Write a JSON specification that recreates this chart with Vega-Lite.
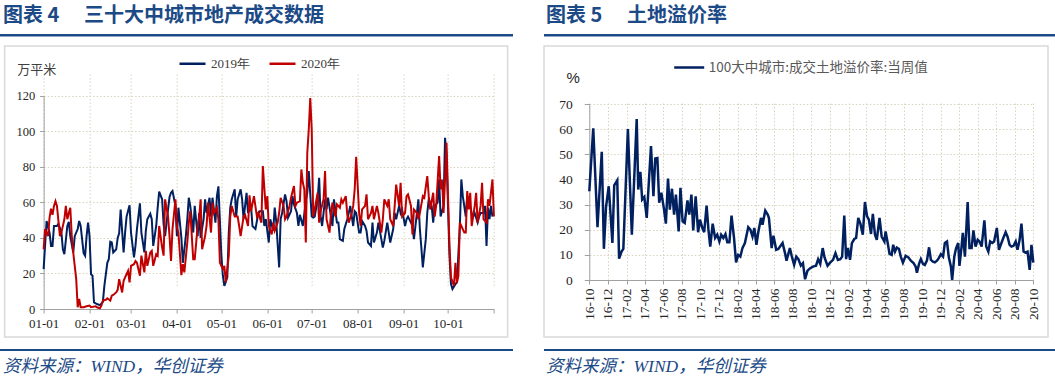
{
  "$schema": "https://vega.github.io/schema/vega-lite/v6.json",
  "padding": {"left": 0, "top": 6, "right": 0, "bottom": 0},
  "background": "white",
  "config": {
    "view": {"stroke": null},
    "axis": {"domainColor": "#a0a0a0", "tickColor": "#a0a0a0", "gridColor": "#d8d4bc", "gridDash": [1.5, 2], "gridWidth": 1, "labelColor": "#262626", "labelFont": "Liberation Serif", "labelOverlap": false, "labelFlush": false, "domainWidth": 1}
  },
  "datasets": {
    "left": [
      {"day":0,"s":"2019年","v":22.4},{"day":2,"s":"2019年","v":49.5},{"day":4,"s":"2019年","v":43},{"day":5,"s":"2019年","v":35.5},{"day":6,"s":"2019年","v":35.5},{"day":7,"s":"2019年","v":46.7},{"day":9,"s":"2019年","v":46.7},{"day":10,"s":"2019年","v":48},{"day":12,"s":"2019年","v":43},{"day":13,"s":"2019年","v":33.6},{"day":14,"s":"2019年","v":30.8},{"day":16,"s":"2019年","v":46.7},{"day":17,"s":"2019年","v":49},{"day":18,"s":"2019年","v":41},{"day":20,"s":"2019年","v":31.8},{"day":21,"s":"2019年","v":41},{"day":23,"s":"2019年","v":45},{"day":24,"s":"2019年","v":49.5},{"day":25,"s":"2019年","v":46.7},{"day":27,"s":"2019年","v":31.4},{"day":28,"s":"2019年","v":30},{"day":29,"s":"2019年","v":41},{"day":30,"s":"2019年","v":48.6},{"day":31,"s":"2019年","v":41},{"day":32,"s":"2019年","v":19.6},{"day":33,"s":"2019年","v":18.7},{"day":34,"s":"2019年","v":3.7},{"day":36,"s":"2019年","v":2.8},{"day":38,"s":"2019年","v":2.2},{"day":40,"s":"2019年","v":4},{"day":41,"s":"2019年","v":13},{"day":43,"s":"2019年","v":26},{"day":44,"s":"2019年","v":28},{"day":45,"s":"2019年","v":37.8},{"day":46,"s":"2019年","v":37.4},{"day":47,"s":"2019年","v":31.8},{"day":49,"s":"2019年","v":33.6},{"day":50,"s":"2019年","v":40},{"day":51,"s":"2019年","v":42.6},{"day":52,"s":"2019年","v":56},{"day":54,"s":"2019年","v":31.8},{"day":55,"s":"2019年","v":43},{"day":56,"s":"2019年","v":52},{"day":58,"s":"2019年","v":58.3},{"day":59,"s":"2019年","v":43},{"day":61,"s":"2019年","v":29},{"day":62,"s":"2019年","v":35.5},{"day":63,"s":"2019年","v":44.9},{"day":65,"s":"2019年","v":59.4},{"day":66,"s":"2019年","v":43},{"day":68,"s":"2019年","v":31.8},{"day":69,"s":"2019年","v":44},{"day":70,"s":"2019年","v":50.5},{"day":72,"s":"2019年","v":53.6},{"day":73,"s":"2019年","v":50.5},{"day":74,"s":"2019年","v":35.5},{"day":76,"s":"2019年","v":46.7},{"day":77,"s":"2019年","v":57},{"day":78,"s":"2019年","v":66},{"day":80,"s":"2019年","v":61.7},{"day":81,"s":"2019年","v":47.7},{"day":82,"s":"2019年","v":41},{"day":84,"s":"2019年","v":56},{"day":85,"s":"2019年","v":63},{"day":86,"s":"2019年","v":65.4},{"day":87,"s":"2019年","v":66.4},{"day":89,"s":"2019年","v":58},{"day":90,"s":"2019年","v":41},{"day":91,"s":"2019年","v":57},{"day":93,"s":"2019年","v":40},{"day":94,"s":"2019年","v":26},{"day":96,"s":"2019年","v":41},{"day":97,"s":"2019年","v":50.5},{"day":98,"s":"2019年","v":62.6},{"day":99,"s":"2019年","v":58},{"day":101,"s":"2019年","v":43},{"day":102,"s":"2019年","v":58},{"day":104,"s":"2019年","v":41},{"day":105,"s":"2019年","v":54},{"day":106,"s":"2019年","v":40},{"day":108,"s":"2019年","v":50.5},{"day":109,"s":"2019年","v":61.7},{"day":110,"s":"2019年","v":54},{"day":112,"s":"2019年","v":62.6},{"day":113,"s":"2019年","v":52},{"day":114,"s":"2019年","v":62.6},{"day":116,"s":"2019年","v":48.6},{"day":117,"s":"2019年","v":63.5},{"day":118,"s":"2019年","v":69},{"day":120,"s":"2019年","v":30},{"day":121,"s":"2019年","v":18.7},{"day":122,"s":"2019年","v":13},{"day":124,"s":"2019年","v":17.8},{"day":125,"s":"2019年","v":43},{"day":126,"s":"2019年","v":57},{"day":127,"s":"2019年","v":61.7},{"day":129,"s":"2019年","v":67.3},{"day":130,"s":"2019年","v":52},{"day":131,"s":"2019年","v":61.7},{"day":133,"s":"2019年","v":67.3},{"day":134,"s":"2019年","v":61.7},{"day":135,"s":"2019年","v":50.5},{"day":137,"s":"2019年","v":65.4},{"day":138,"s":"2019年","v":54},{"day":140,"s":"2019年","v":58},{"day":141,"s":"2019年","v":46.7},{"day":143,"s":"2019年","v":45},{"day":145,"s":"2019年","v":54},
      {"day":146,"s":"2019年","v":55},{"day":148,"s":"2019年","v":55},{"day":149,"s":"2019年","v":46.7},{"day":150,"s":"2019年","v":50.5},{"day":152,"s":"2019年","v":37.4},{"day":153,"s":"2019年","v":50.5},{"day":155,"s":"2019年","v":44},{"day":156,"s":"2019年","v":57},{"day":157,"s":"2019年","v":49.5},{"day":159,"s":"2019年","v":23.4},{"day":160,"s":"2019年","v":50.5},{"day":161,"s":"2019年","v":54},{"day":163,"s":"2019年","v":64.5},{"day":164,"s":"2019年","v":60.7},{"day":165,"s":"2019年","v":51.4},{"day":167,"s":"2019年","v":55},{"day":168,"s":"2019年","v":63.5},{"day":169,"s":"2019年","v":58.9},{"day":171,"s":"2019年","v":54},{"day":172,"s":"2019年","v":46.7},{"day":173,"s":"2019年","v":53},{"day":175,"s":"2019年","v":46.7},{"day":177,"s":"2019年","v":60.7},{"day":178,"s":"2019年","v":65.4},{"day":179,"s":"2019年","v":77.6},{"day":181,"s":"2019年","v":52},{"day":182,"s":"2019年","v":51.4},{"day":183,"s":"2019年","v":52},{"day":185,"s":"2019年","v":61.7},{"day":186,"s":"2019年","v":73.8},{"day":187,"s":"2019年","v":52},{"day":188,"s":"2019年","v":46.7},{"day":190,"s":"2019年","v":61.7},{"day":191,"s":"2019年","v":56},{"day":192,"s":"2019年","v":62.6},{"day":194,"s":"2019年","v":52},{"day":195,"s":"2019年","v":46.7},{"day":196,"s":"2019年","v":61.7},{"day":198,"s":"2019年","v":48.6},{"day":199,"s":"2019年","v":48.6},{"day":200,"s":"2019年","v":39.3},{"day":202,"s":"2019年","v":38.3},{"day":203,"s":"2019年","v":45},{"day":205,"s":"2019年","v":50.5},{"day":206,"s":"2019年","v":54},{"day":207,"s":"2019年","v":58},{"day":209,"s":"2019年","v":46.7},{"day":210,"s":"2019年","v":55},{"day":211,"s":"2019年","v":54},{"day":213,"s":"2019年","v":43},{"day":214,"s":"2019年","v":43},{"day":215,"s":"2019年","v":49.5},{"day":217,"s":"2019年","v":46.7},{"day":218,"s":"2019年","v":44},{"day":219,"s":"2019年","v":37.4},{"day":221,"s":"2019年","v":35.5},{"day":222,"s":"2019年","v":48.6},{"day":223,"s":"2019年","v":37.4},{"day":225,"s":"2019年","v":43},{"day":226,"s":"2019年","v":48.6},{"day":228,"s":"2019年","v":39.3},{"day":229,"s":"2019年","v":34.6},{"day":230,"s":"2019年","v":38.3},{"day":232,"s":"2019年","v":48.6},{"day":233,"s":"2019年","v":43},{"day":234,"s":"2019年","v":37.4},{"day":236,"s":"2019年","v":45},{"day":237,"s":"2019年","v":54},{"day":238,"s":"2019年","v":50.5},{"day":240,"s":"2019年","v":58},{"day":241,"s":"2019年","v":54},{"day":242,"s":"2019年","v":56},{"day":244,"s":"2019年","v":46.7},{"day":245,"s":"2019年","v":50.5},{"day":246,"s":"2019年","v":52},{"day":248,"s":"2019年","v":48.6},{"day":249,"s":"2019年","v":46.7},{"day":250,"s":"2019年","v":39.3},{"day":252,"s":"2019年","v":54},{"day":253,"s":"2019年","v":61.7},{"day":254,"s":"2019年","v":45},{"day":255,"s":"2019年","v":34.6},{"day":256,"s":"2019年","v":23.4},{"day":258,"s":"2019年","v":39.3},{"day":259,"s":"2019年","v":54},{"day":260,"s":"2019年","v":61.7},{"day":262,"s":"2019年","v":58},{"day":263,"s":"2019年","v":48.6},{"day":264,"s":"2019年","v":58},{"day":266,"s":"2019年","v":59.8},{"day":267,"s":"2019年","v":72.9},{"day":268,"s":"2019年","v":52},{"day":270,"s":"2019年","v":58},{"day":271,"s":"2019年","v":96.3},{"day":272,"s":"2019年","v":86},{"day":274,"s":"2019年","v":30},{"day":275,"s":"2019年","v":14},{"day":276,"s":"2019年","v":11.2},{"day":278,"s":"2019年","v":14},{"day":279,"s":"2019年","v":15},{"day":281,"s":"2019年","v":46.7},{"day":282,"s":"2019年","v":72.9},{"day":283,"s":"2019年","v":63.5},{"day":285,"s":"2019年","v":52},{"day":286,"s":"2019年","v":63.5},{"day":287,"s":"2019年","v":61.7},{"day":289,"s":"2019年","v":54},{"day":290,"s":"2019年","v":52},{"day":291,"s":"2019年","v":54},{"day":293,"s":"2019年","v":48.6},{"day":294,"s":"2019年","v":52},{"day":295,"s":"2019年","v":54},{"day":297,"s":"2019年","v":54},{"day":298,"s":"2019年","v":58},{"day":299,"s":"2019年","v":35.5},{"day":300,"s":"2019年","v":57},{"day":301,"s":"2019年","v":50.5},{"day":302,"s":"2019年","v":58},{"day":303,"s":"2019年","v":52},
      {"day":0,"s":"2020年","v":33.6},{"day":1,"s":"2020年","v":45},{"day":3,"s":"2020年","v":41},{"day":4,"s":"2020年","v":51.4},{"day":5,"s":"2020年","v":56.4},{"day":6,"s":"2020年","v":53},{"day":7,"s":"2020年","v":58},{"day":8,"s":"2020年","v":60.7},{"day":9,"s":"2020年","v":58},{"day":11,"s":"2020年","v":41},{"day":12,"s":"2020年","v":43},{"day":14,"s":"2020年","v":50.5},{"day":15,"s":"2020年","v":58},{"day":16,"s":"2020年","v":50.5},{"day":17,"s":"2020年","v":54},{"day":18,"s":"2020年","v":57},{"day":19,"s":"2020年","v":41},{"day":20,"s":"2020年","v":31.8},{"day":22,"s":"2020年","v":16.8},{"day":23,"s":"2020年","v":1},{"day":24,"s":"2020年","v":5.6},{"day":25,"s":"2020年","v":1},{"day":27,"s":"2020年","v":1},{"day":29,"s":"2020年","v":1.5},{"day":31,"s":"2020年","v":1.9},{"day":32,"s":"2020年","v":1},{"day":35,"s":"2020年","v":1.5},{"day":36,"s":"2020年","v":1},{"day":38,"s":"2020年","v":0.4},{"day":39,"s":"2020年","v":1.9},{"day":40,"s":"2020年","v":4.7},{"day":42,"s":"2020年","v":5.2},{"day":43,"s":"2020年","v":6},{"day":45,"s":"2020年","v":4.7},{"day":46,"s":"2020年","v":7.5},{"day":47,"s":"2020年","v":7.9},{"day":49,"s":"2020年","v":9.3},{"day":50,"s":"2020年","v":10.8},{"day":51,"s":"2020年","v":16.8},{"day":53,"s":"2020年","v":9.3},{"day":54,"s":"2020年","v":15.9},{"day":55,"s":"2020年","v":17.8},{"day":57,"s":"2020年","v":21.5},{"day":58,"s":"2020年","v":15},{"day":59,"s":"2020年","v":24.3},{"day":61,"s":"2020年","v":25.2},{"day":62,"s":"2020年","v":27},{"day":63,"s":"2020年","v":26},{"day":65,"s":"2020年","v":18.7},{"day":66,"s":"2020年","v":30},{"day":68,"s":"2020年","v":20.6},{"day":69,"s":"2020年","v":32.7},{"day":70,"s":"2020年","v":24.3},{"day":72,"s":"2020年","v":31.8},{"day":73,"s":"2020年","v":32.7},{"day":74,"s":"2020年","v":24.3},{"day":76,"s":"2020年","v":30.8},{"day":77,"s":"2020年","v":30},{"day":78,"s":"2020年","v":46.7},{"day":80,"s":"2020年","v":34.6},{"day":81,"s":"2020年","v":30},{"day":82,"s":"2020年","v":61.7},{"day":84,"s":"2020年","v":52},{"day":85,"s":"2020年","v":41},{"day":86,"s":"2020年","v":27},{"day":87,"s":"2020年","v":45},{"day":89,"s":"2020年","v":61.7},{"day":90,"s":"2020年","v":45.8},{"day":91,"s":"2020年","v":43},{"day":93,"s":"2020年","v":19},{"day":94,"s":"2020年","v":25.2},{"day":95,"s":"2020年","v":20.6},{"day":97,"s":"2020年","v":37.4},{"day":98,"s":"2020年","v":48.6},{"day":99,"s":"2020年","v":55},{"day":101,"s":"2020年","v":28},{"day":102,"s":"2020年","v":28},{"day":104,"s":"2020年","v":46.7},{"day":105,"s":"2020年","v":51.4},{"day":106,"s":"2020年","v":61.7},{"day":107,"s":"2020年","v":33.6},{"day":109,"s":"2020年","v":41},{"day":110,"s":"2020年","v":46.7},{"day":111,"s":"2020年","v":59.8},{"day":113,"s":"2020年","v":43},{"day":114,"s":"2020年","v":59.8},{"day":115,"s":"2020年","v":54},{"day":117,"s":"2020年","v":57},{"day":118,"s":"2020年","v":50.5},{"day":119,"s":"2020年","v":26},{"day":121,"s":"2020年","v":22.4},{"day":122,"s":"2020年","v":24.3},{"day":123,"s":"2020年","v":15},{"day":125,"s":"2020年","v":30},{"day":126,"s":"2020年","v":52},{"day":127,"s":"2020年","v":58},{"day":129,"s":"2020年","v":52},{"day":131,"s":"2020年","v":52},{"day":132,"s":"2020年","v":46.7},{"day":133,"s":"2020年","v":41},{"day":135,"s":"2020年","v":52},{"day":136,"s":"2020年","v":53},{"day":138,"s":"2020年","v":46.7},{"day":139,"s":"2020年","v":64},{"day":140,"s":"2020年","v":55},{"day":142,"s":"2020年","v":63.5},{"day":144,"s":"2020年","v":52},{"day":145,"s":"2020年","v":54},
      {"day":147,"s":"2020年","v":48.6},{"day":148,"s":"2020年","v":80.4},{"day":150,"s":"2020年","v":56},{"day":151,"s":"2020年","v":63.5},{"day":152,"s":"2020年","v":46.7},{"day":154,"s":"2020年","v":42},{"day":155,"s":"2020年","v":48.6},{"day":156,"s":"2020年","v":44},{"day":158,"s":"2020年","v":48.6},{"day":159,"s":"2020年","v":54},{"day":160,"s":"2020年","v":62.6},{"day":162,"s":"2020年","v":58},{"day":163,"s":"2020年","v":50.5},{"day":164,"s":"2020年","v":52},{"day":166,"s":"2020年","v":58},{"day":167,"s":"2020年","v":62.6},{"day":169,"s":"2020年","v":69.2},{"day":170,"s":"2020年","v":58},{"day":171,"s":"2020年","v":59.8},{"day":173,"s":"2020年","v":60.7},{"day":174,"s":"2020年","v":78.5},{"day":175,"s":"2020年","v":71},{"day":176,"s":"2020年","v":67.3},{"day":177,"s":"2020年","v":37.4},{"day":178,"s":"2020年","v":87.9},{"day":179,"s":"2020年","v":101},{"day":180,"s":"2020年","v":118.7},{"day":181,"s":"2020年","v":101},{"day":182,"s":"2020年","v":52},{"day":183,"s":"2020年","v":56},{"day":185,"s":"2020年","v":65.4},{"day":186,"s":"2020年","v":48.6},{"day":187,"s":"2020年","v":55},{"day":189,"s":"2020年","v":61.7},{"day":190,"s":"2020年","v":77.6},{"day":191,"s":"2020年","v":50.5},{"day":193,"s":"2020年","v":43},{"day":194,"s":"2020年","v":54},{"day":195,"s":"2020年","v":59.8},{"day":197,"s":"2020年","v":52},{"day":198,"s":"2020年","v":58.9},{"day":200,"s":"2020年","v":57},{"day":201,"s":"2020年","v":61.7},{"day":202,"s":"2020年","v":59.8},{"day":204,"s":"2020年","v":63.5},{"day":205,"s":"2020年","v":53},{"day":206,"s":"2020年","v":48.6},{"day":208,"s":"2020年","v":54},{"day":209,"s":"2020年","v":58},{"day":210,"s":"2020年","v":67.3},{"day":211,"s":"2020年","v":85.6},{"day":213,"s":"2020年","v":54},{"day":214,"s":"2020年","v":46.7},{"day":215,"s":"2020年","v":56},{"day":217,"s":"2020年","v":58},{"day":218,"s":"2020年","v":64.5},{"day":219,"s":"2020年","v":50.5},{"day":221,"s":"2020年","v":54},{"day":222,"s":"2020年","v":58},{"day":223,"s":"2020年","v":50.5},{"day":225,"s":"2020年","v":58},{"day":226,"s":"2020年","v":54},{"day":228,"s":"2020年","v":43},{"day":229,"s":"2020年","v":50.5},{"day":230,"s":"2020年","v":61.7},{"day":232,"s":"2020年","v":58},{"day":233,"s":"2020年","v":61.7},{"day":234,"s":"2020年","v":50.5},{"day":236,"s":"2020年","v":46.7},{"day":237,"s":"2020年","v":58},{"day":238,"s":"2020年","v":70},{"day":240,"s":"2020年","v":58},{"day":241,"s":"2020年","v":71},{"day":242,"s":"2020年","v":52},{"day":244,"s":"2020年","v":54},{"day":245,"s":"2020年","v":63.5},{"day":246,"s":"2020年","v":64.5},{"day":248,"s":"2020年","v":58},{"day":249,"s":"2020年","v":42},{"day":250,"s":"2020年","v":56},{"day":252,"s":"2020年","v":54},{"day":253,"s":"2020年","v":50.5},{"day":254,"s":"2020年","v":54},{"day":256,"s":"2020年","v":63.5},{"day":257,"s":"2020年","v":62.6},{"day":259,"s":"2020年","v":74.8},{"day":260,"s":"2020年","v":63.5},{"day":261,"s":"2020年","v":56},{"day":263,"s":"2020年","v":65.4},{"day":264,"s":"2020年","v":52},{"day":265,"s":"2020年","v":58},{"day":267,"s":"2020年","v":86},{"day":268,"s":"2020年","v":67.3},{"day":269,"s":"2020年","v":72.9},{"day":270,"s":"2020年","v":54},{"day":271,"s":"2020年","v":72.9},{"day":272,"s":"2020年","v":93.5},{"day":273,"s":"2020年","v":63.5},{"day":274,"s":"2020年","v":35.5},{"day":275,"s":"2020年","v":17.8},{"day":277,"s":"2020年","v":13},{"day":278,"s":"2020年","v":26},{"day":279,"s":"2020年","v":14.6},{"day":280,"s":"2020年","v":18.7},{"day":281,"s":"2020年","v":48.6},{"day":282,"s":"2020年","v":46.7},{"day":284,"s":"2020年","v":43},{"day":285,"s":"2020年","v":43},{"day":286,"s":"2020年","v":66.4},{"day":287,"s":"2020年","v":56},{"day":288,"s":"2020年","v":65.4},{"day":289,"s":"2020年","v":46.7},{"day":291,"s":"2020年","v":58},{"day":292,"s":"2020年","v":65.4},{"day":293,"s":"2020年","v":48.6},{"day":295,"s":"2020年","v":58},{"day":296,"s":"2020年","v":71},{"day":297,"s":"2020年","v":50.5},{"day":299,"s":"2020年","v":48.6},{"day":300,"s":"2020年","v":61.7},{"day":301,"s":"2020年","v":58},{"day":303,"s":"2020年","v":72.9},{"day":304,"s":"2020年","v":52}
    ],
    "right": [
      {"date":"2016-10-01","v":35.3},{"date":"2016-10-14","v":60.3},{"date":"2016-10-28","v":21},{"date":"2016-11-11","v":51},{"date":"2016-11-18","v":12.4},{"date":"2016-11-25","v":29},{"date":"2016-12-04","v":37.3},{"date":"2016-12-16","v":14.7},{"date":"2016-12-22","v":37.6},{"date":"2017-01-01","v":39.6},{"date":"2017-01-07","v":8.5},{"date":"2017-01-15","v":11.3},{"date":"2017-01-21","v":12.4},{"date":"2017-02-05","v":60},{"date":"2017-02-18","v":18},{"date":"2017-03-06","v":64},{"date":"2017-03-11","v":36},{"date":"2017-03-18","v":43},{"date":"2017-03-24","v":32},{"date":"2017-03-31","v":33},{"date":"2017-04-08","v":24.7},{"date":"2017-04-22","v":53.3},{"date":"2017-04-30","v":33.3},{"date":"2017-05-06","v":48.3},{"date":"2017-05-13","v":48.5},{"date":"2017-05-19","v":30.7},{"date":"2017-05-26","v":34.7},{"date":"2017-06-04","v":28},{"date":"2017-06-10","v":22.4},{"date":"2017-06-17","v":40.3},{"date":"2017-06-23","v":28},{"date":"2017-06-30","v":36.3},{"date":"2017-07-07","v":26},{"date":"2017-07-13","v":34},{"date":"2017-07-22","v":19.3},{"date":"2017-07-28","v":36.7},{"date":"2017-08-04","v":23.3},{"date":"2017-08-11","v":22.7},{"date":"2017-08-20","v":31.7},{"date":"2017-08-26","v":26},{"date":"2017-09-02","v":34},{"date":"2017-09-08","v":19.7},{"date":"2017-09-16","v":33.3},{"date":"2017-09-24","v":19},{"date":"2017-09-30","v":24},{"date":"2017-10-08","v":20.7},{"date":"2017-10-14","v":19},{"date":"2017-10-22","v":29.6},{"date":"2017-10-28","v":20},{"date":"2017-11-03","v":13.3},{"date":"2017-11-11","v":22.4},{"date":"2017-11-19","v":16.7},{"date":"2017-11-26","v":18},{"date":"2017-12-03","v":15.3},{"date":"2017-12-09","v":18},{"date":"2017-12-16","v":16.7},{"date":"2017-12-23","v":18.3},{"date":"2017-12-29","v":15},{"date":"2018-01-05","v":15},{"date":"2018-01-12","v":25.6},{"date":"2018-01-20","v":17},{"date":"2018-01-27","v":7},
      {"date":"2018-02-03","v":10},{"date":"2018-02-10","v":9.3},{"date":"2018-02-17","v":12.7},{"date":"2018-02-25","v":14.7},{"date":"2018-03-08","v":21},{"date":"2018-03-15","v":20},{"date":"2018-03-22","v":17.3},{"date":"2018-03-28","v":20.7},{"date":"2018-04-04","v":14},{"date":"2018-04-10","v":19},{"date":"2018-04-19","v":24.7},{"date":"2018-04-24","v":22},{"date":"2018-05-03","v":27.6},{"date":"2018-05-11","v":26},{"date":"2018-05-15","v":24.7},{"date":"2018-05-24","v":12.7},{"date":"2018-05-30","v":17.6},{"date":"2018-06-08","v":12},{"date":"2018-06-15","v":12.3},{"date":"2018-06-29","v":14.7},{"date":"2018-07-07","v":10.7},{"date":"2018-07-12","v":7.7},{"date":"2018-07-23","v":12.7},{"date":"2018-07-29","v":9.6},{"date":"2018-08-06","v":6},{"date":"2018-08-13","v":9.3},{"date":"2018-08-20","v":8.3},{"date":"2018-08-28","v":5.7},{"date":"2018-09-04","v":6.7},{"date":"2018-09-11","v":0.3},{"date":"2018-09-19","v":3.7},{"date":"2018-09-28","v":4.7},{"date":"2018-10-07","v":5.3},{"date":"2018-10-17","v":5.7},{"date":"2018-10-24","v":8.3},{"date":"2018-10-31","v":6.4},{"date":"2018-11-08","v":12.7},{"date":"2018-11-14","v":9},{"date":"2018-11-24","v":5.7},{"date":"2018-12-03","v":7},{"date":"2018-12-12","v":8},{"date":"2018-12-20","v":10.7},{"date":"2018-12-28","v":8},{"date":"2019-01-05","v":8.3},{"date":"2019-01-11","v":9.3},{"date":"2019-01-18","v":25.6},{"date":"2019-01-24","v":8.3},{"date":"2019-01-30","v":12.7},{"date":"2019-02-06","v":8},{"date":"2019-02-12","v":14.7},{"date":"2019-02-20","v":16.3},{"date":"2019-02-26","v":16.7},{"date":"2019-03-05","v":24.7},{"date":"2019-03-12","v":22.4},{"date":"2019-03-20","v":18},{"date":"2019-03-27","v":31},{"date":"2019-04-03","v":25.3},{"date":"2019-04-09","v":24},{"date":"2019-04-16","v":18.3},{"date":"2019-04-22","v":26.3},{"date":"2019-04-29","v":18},{"date":"2019-05-05","v":16},{"date":"2019-05-14","v":24.7},{"date":"2019-05-21","v":17.3},{"date":"2019-05-30","v":15.3},
      {"date":"2019-06-03","v":19.3},{"date":"2019-06-09","v":15.3},{"date":"2019-06-16","v":10.4},{"date":"2019-06-23","v":10},{"date":"2019-06-28","v":14},{"date":"2019-07-04","v":11.3},{"date":"2019-07-10","v":12.9},{"date":"2019-07-17","v":12.3},{"date":"2019-07-23","v":9.3},{"date":"2019-07-30","v":6.9},{"date":"2019-08-08","v":9.6},{"date":"2019-08-17","v":9},{"date":"2019-08-25","v":7.7},{"date":"2019-09-03","v":6.7},{"date":"2019-09-10","v":5.3},{"date":"2019-09-14","v":2.9},{"date":"2019-09-21","v":6.4},{"date":"2019-09-27","v":8.3},{"date":"2019-10-04","v":6.4},{"date":"2019-10-10","v":6},{"date":"2019-10-17","v":7.7},{"date":"2019-10-24","v":13},{"date":"2019-10-30","v":8},{"date":"2019-11-06","v":7.3},{"date":"2019-11-12","v":7},{"date":"2019-11-19","v":7.7},{"date":"2019-11-25","v":8.7},{"date":"2019-12-02","v":10.3},{"date":"2019-12-09","v":9.3},{"date":"2019-12-15","v":14.7},{"date":"2019-12-22","v":15.3},{"date":"2019-12-28","v":9},{"date":"2020-01-04","v":5.3},{"date":"2020-01-08","v":0},{"date":"2020-01-15","v":9.3},{"date":"2020-01-21","v":12.7},{"date":"2020-01-28","v":14.7},{"date":"2020-02-01","v":5.6},{"date":"2020-02-08","v":13.3},{"date":"2020-02-12","v":18.7},{"date":"2020-02-19","v":9.3},{"date":"2020-02-28","v":31},{"date":"2020-03-05","v":12.7},{"date":"2020-03-12","v":12.7},{"date":"2020-03-18","v":19.7},{"date":"2020-03-25","v":13.3},{"date":"2020-04-01","v":16},{"date":"2020-04-07","v":15.3},{"date":"2020-04-14","v":13.3},{"date":"2020-04-23","v":23.7},{"date":"2020-04-29","v":13.3},{"date":"2020-05-06","v":11.3},{"date":"2020-05-12","v":15.3},{"date":"2020-05-19","v":14.7},{"date":"2020-05-25","v":15.3},{"date":"2020-06-03","v":20.7},{"date":"2020-06-10","v":12},{"date":"2020-06-16","v":14},{"date":"2020-06-23","v":16.3},{"date":"2020-07-02","v":19},{"date":"2020-07-08","v":17.3},{"date":"2020-07-15","v":14},{"date":"2020-07-21","v":13.3},{"date":"2020-07-28","v":13.6},{"date":"2020-08-04","v":15.3},{"date":"2020-08-10","v":12},{"date":"2020-08-17","v":16},{"date":"2020-08-23","v":22.4},{"date":"2020-08-30","v":11.3},{"date":"2020-09-05","v":10.9},{"date":"2020-09-12","v":11.3},{"date":"2020-09-19","v":4},{"date":"2020-09-25","v":14},{"date":"2020-10-01","v":6.9}
    ]
  },
  "resolve": {"scale": {"color": "independent"}, "legend": {"color": "independent"}},
  "spacing": 30,
  "hconcat": [
    {
      "spacing": 8,
      "center": true,
      "vconcat": [
        {
          "width": 513, "height": 2.5,
          "data": {"values": []},
          "mark": "text",
          "encoding": {},
          "view": {"fill": "#1c4a86", "stroke": null},
          "title": {"text": "图表  4　 三十大中城市地产成交数据", "anchor": "start", "font": "Noto Sans CJK SC", "fontSize": 20, "fontWeight": "bold", "color": "#1c4a86", "offset": 8, "dx": 3}
        },
        {
          "spacing": 11,
          "center": true,
          "vconcat": [
            {
              "width": 503, "height": 291,
              "view": {"stroke": "#d9d9d9", "strokeWidth": 1.5},
              "data": {"name": "left"},
              "mark": {"type": "line", "strokeWidth": 2},
              "encoding": {
                "x": {"field": "day", "type": "quantitative",
                  "scale": {"domain": [0, 304], "range": [39, 489.3], "nice": false, "zero": false},
                  "axis": {"orient": "bottom", "offset": -28, "values": [0, 31, 59, 90, 120, 151, 181, 212, 243, 273, 304], "labelExpr": "datum.value >= 300 ? '' : timeFormat(datetime(2019, 0, 1 + datum.value), '%m-%d')", "title": null, "grid": true, "tickSize": 4, "labelPadding": 4, "labelFontSize": 13}},
                "y": {"field": "v", "type": "quantitative",
                  "scale": {"domain": [0, 120], "range": [263, 49.7], "nice": false},
                  "axis": {"orient": "left", "offset": -39, "values": [0, 20, 40, 60, 80, 100, 120], "grid": true, "tickSize": 4, "labelPadding": 5, "labelFontSize": 12.5, "title": "万平米", "titleAngle": 0, "titleAlign": "left", "titleBaseline": "middle", "titleX": -27, "titleY": 23, "titleFont": "Noto Sans CJK SC", "titleFontSize": 13, "titleFontWeight": "normal", "titleColor": "#404040"}},
                "color": {"field": "s", "type": "nominal",
                  "scale": {"domain": ["2019年", "2020年"], "range": ["#002060", "#c00000"]},
                  "legend": {"orient": "none", "legendX": 178, "legendY": 15, "direction": "horizontal", "title": null, "symbolType": "stroke", "symbolSize": 676, "symbolStrokeWidth": 2.5, "labelFont": "Liberation Serif", "labelFontSize": 13, "labelColor": "#404040", "columnPadding": 14, "labelOffset": 4, "padding": 0}}
              }
            },
            {
              "width": 513, "height": 2,
              "data": {"values": []},
              "mark": "text",
              "encoding": {},
              "view": {"fill": "#1c4a86", "stroke": null},
              "title": {"text": "资料来源：WIND，华创证券", "orient": "bottom", "anchor": "start", "font": "Liberation Serif, Noto Sans CJK SC", "fontSize": 17.5, "fontStyle": "italic", "fontWeight": "normal", "color": "#1c4a86", "offset": 7, "dx": 3}
            }
          ]
        }
      ]
    },
    {
      "spacing": 8,
      "vconcat": [
        {
          "width": 512, "height": 2.5,
          "data": {"values": []},
          "mark": "text",
          "encoding": {},
          "view": {"fill": "#1c4a86", "stroke": null},
          "title": {"text": "图表  5　 土地溢价率", "anchor": "start", "font": "Noto Sans CJK SC", "fontSize": 20, "fontWeight": "bold", "color": "#1c4a86", "offset": 8, "dx": 2}
        },
        {
          "spacing": 11,
          "vconcat": [
            {
              "width": 504, "height": 291,
              "view": {"stroke": "#d9d9d9", "strokeWidth": 1.5},
              "data": {"name": "right"},
              "mark": {"type": "line", "strokeWidth": 2.5},
              "encoding": {
                "x": {"field": "date", "type": "temporal",
                  "scale": {"type": "utc", "domain": [{"year": 2016, "month": 10, "date": 1, "utc": true}, {"year": 2020, "month": 10, "date": 1, "utc": true}], "range": [45.3, 489.3], "nice": false},
                  "axis": {"orient": "bottom", "offset": -57, "format": "%y-%m", "labelAngle": 270, "title": null, "grid": true, "tickSize": 4, "labelPadding": 4, "labelFontSize": 13.5,
                    "values": [
                      {"year": 2016, "month": 10, "date": 1, "utc": true}, {"year": 2016, "month": 12, "date": 1, "utc": true},
                      {"year": 2017, "month": 2, "date": 1, "utc": true}, {"year": 2017, "month": 4, "date": 1, "utc": true}, {"year": 2017, "month": 6, "date": 1, "utc": true}, {"year": 2017, "month": 8, "date": 1, "utc": true}, {"year": 2017, "month": 10, "date": 1, "utc": true}, {"year": 2017, "month": 12, "date": 1, "utc": true},
                      {"year": 2018, "month": 2, "date": 1, "utc": true}, {"year": 2018, "month": 4, "date": 1, "utc": true}, {"year": 2018, "month": 6, "date": 1, "utc": true}, {"year": 2018, "month": 8, "date": 1, "utc": true}, {"year": 2018, "month": 10, "date": 1, "utc": true}, {"year": 2018, "month": 12, "date": 1, "utc": true},
                      {"year": 2019, "month": 2, "date": 1, "utc": true}, {"year": 2019, "month": 4, "date": 1, "utc": true}, {"year": 2019, "month": 6, "date": 1, "utc": true}, {"year": 2019, "month": 8, "date": 1, "utc": true}, {"year": 2019, "month": 10, "date": 1, "utc": true}, {"year": 2019, "month": 12, "date": 1, "utc": true},
                      {"year": 2020, "month": 2, "date": 1, "utc": true}, {"year": 2020, "month": 4, "date": 1, "utc": true}, {"year": 2020, "month": 6, "date": 1, "utc": true}, {"year": 2020, "month": 8, "date": 1, "utc": true}, {"year": 2020, "month": 10, "date": 1, "utc": true}
                    ]}},
                "y": {"field": "v", "type": "quantitative",
                  "scale": {"domain": [0, 70], "range": [234, 58], "nice": false},
                  "axis": {"orient": "left", "offset": -45.3, "values": [0, 10, 20, 30, 40, 50, 60, 70], "grid": true, "tickSize": 5, "labelPadding": 12, "labelFontSize": 13.5, "title": "%", "titleAngle": 0, "titleAlign": "left", "titleBaseline": "middle", "titleX": -23.3, "titleY": 31, "titleFont": "Liberation Sans", "titleFontSize": 15, "titleFontWeight": "normal", "titleColor": "#262626"}},
                "color": {"datum": "100大中城市:成交土地溢价率:当周值", "type": "nominal",
                  "scale": {"range": ["#002060"]},
                  "legend": {"orient": "none", "legendX": 128.7, "legendY": 17, "title": null, "symbolType": "stroke", "symbolSize": 900, "symbolStrokeWidth": 2.5, "labelFont": "Noto Sans CJK SC", "labelFontSize": 13.5, "labelColor": "#595959", "labelOffset": 3, "padding": 0, "labelLimit": 400}}
              }
            },
            {
              "width": 512, "height": 2,
              "data": {"values": []},
              "mark": "text",
              "encoding": {},
              "view": {"fill": "#1c4a86", "stroke": null},
              "title": {"text": "资料来源：WIND，华创证券", "orient": "bottom", "anchor": "start", "font": "Liberation Serif, Noto Sans CJK SC", "fontSize": 17.5, "fontStyle": "italic", "fontWeight": "normal", "color": "#1c4a86", "offset": 7, "dx": 2}
            }
          ]
        }
      ]
    }
  ]
}
